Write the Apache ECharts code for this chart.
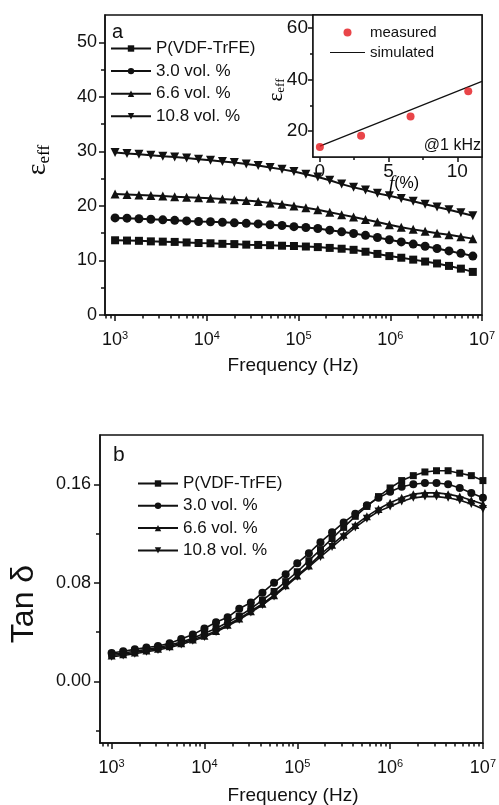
<!DOCTYPE html>
<html>
<head>
<meta charset="utf-8">
<script src="https://cdn.jsdelivr.net/npm/echarts@6/dist/echarts.min.js"></script>
<style>html,body{margin:0;padding:0;background:#fff;}#c{width:499px;height:805px;}</style>
</head>
<body>
<div id="c"></div>
<script>
// ---------- data ----------
const seriesNames = ['P(VDF-TrFE)', '3.0 vol. %', '6.6 vol. %', '10.8 vol. %'];
// log10(frequency / Hz)
const logFreqA = [3.00,3.13,3.26,3.39,3.52,3.65,3.78,3.91,4.04,4.17,4.30,4.43,4.56,4.69,4.82,4.95,5.08,5.21,5.34,5.47,5.60,5.73,5.86,5.99,6.12,6.25,6.38,6.51,6.64,6.77,6.90];
const epsPVDF = [13.7,13.65,13.6,13.5,13.45,13.4,13.3,13.2,13.15,13.05,13.0,12.9,12.85,12.8,12.7,12.65,12.55,12.45,12.3,12.15,11.95,11.6,11.2,10.8,10.5,10.15,9.8,9.45,9.0,8.5,7.9];
const eps30 = [17.8,17.75,17.65,17.55,17.45,17.35,17.25,17.15,17.1,17.0,16.9,16.8,16.7,16.55,16.4,16.2,16.05,15.85,15.55,15.25,14.95,14.6,14.2,13.8,13.4,13.0,12.6,12.2,11.75,11.3,10.8];
const eps66 = [22.2,22.1,22.0,21.9,21.8,21.7,21.6,21.5,21.4,21.25,21.15,21.0,20.8,20.55,20.3,20.0,19.65,19.3,18.85,18.4,17.95,17.5,17.05,16.55,16.1,15.7,15.35,15.0,14.7,14.35,14.0];
const eps108 = [29.8,29.6,29.45,29.3,29.1,28.95,28.8,28.55,28.35,28.15,27.95,27.7,27.4,27.05,26.7,26.3,25.8,25.3,24.7,24.0,23.4,22.9,22.3,21.85,21.35,20.85,20.3,19.8,19.3,18.75,18.2];

const logFreqB = [3.000,3.125,3.250,3.375,3.500,3.625,3.750,3.875,4.000,4.125,4.250,4.375,4.500,4.625,4.750,4.875,5.000,5.125,5.250,5.375,5.500,5.625,5.750,5.875,6.000,6.125,6.250,6.375,6.500,6.625,6.750,6.875,7.000];
const tanPVDF = [0.022,0.023,0.0245,0.026,0.0275,0.0295,0.032,0.035,0.039,0.043,0.048,0.053,0.059,0.066,0.073,0.081,0.089,0.098,0.107,0.116,0.125,0.134,0.142,0.150,0.157,0.163,0.167,0.170,0.171,0.171,0.169,0.167,0.163];
const tan30 = [0.023,0.0245,0.026,0.0275,0.0288,0.031,0.0345,0.038,0.043,0.048,0.052,0.059,0.064,0.072,0.080,0.087,0.096,0.104,0.113,0.121,0.129,0.136,0.143,0.149,0.154,0.158,0.160,0.161,0.161,0.160,0.157,0.153,0.149];
const tan66 = [0.021,0.022,0.0235,0.025,0.0265,0.0285,0.031,0.034,0.037,0.041,0.046,0.051,0.057,0.063,0.070,0.078,0.086,0.094,0.103,0.111,0.119,0.127,0.134,0.140,0.145,0.149,0.152,0.153,0.153,0.152,0.150,0.147,0.144];
const tan108 = [0.020,0.021,0.0225,0.024,0.0255,0.0275,0.030,0.033,0.036,0.040,0.045,0.050,0.056,0.062,0.069,0.077,0.085,0.093,0.101,0.109,0.117,0.125,0.132,0.138,0.142,0.146,0.149,0.150,0.150,0.149,0.147,0.144,0.140];

// inset
const insetFill = [0, 3.0, 6.6, 10.8];
const insetMeasured = [13.9, 18.2, 25.7, 35.5];
const simFill = [0, 11.8];
const simEps = [14.2, 39.3];

// ticks
const decades = [3, 4, 5, 6, 7];
const minorMult = [2, 3, 4, 5, 6, 7, 8, 9];
const epsTicks = [0, 10, 20, 30, 40, 50];
const epsMinor = [5, 15, 25, 35, 45];
const tanTicks = [0, 0.08, 0.16];
const tanMinor = [-0.04, 0.04, 0.12];
const insetXTicks = [0, 5, 10];
const insetXMinor = [2.5, 7.5];
const insetYTicks = [20, 40, 60];
const insetYMinor = [30, 50];

// ---------- build ----------
const FONT = 'Liberation Sans, Arial, sans-serif';
const SERIF = 'Liberation Serif, Times New Roman, serif';
const BLACK = '#111';
const xMinA = 2.89, xMinB = 2.875;
function minorLogTicks(lo) {
  const out = [];
  [2, 3, 4, 5, 6].forEach(d => minorMult.forEach(m => {
    const v = Math.log10(m * Math.pow(10, d));
    if (v >= lo && v <= 7) out.push(v);
  }));
  return out;
}
const symbols = ['rect', 'circle', 'triangle', 'triangle'];
const rotates = [0, 0, 0, 180];
const symSizes = [8, 9, 9, 9];

const xLabel = {
  customValues: decades, color: BLACK, fontFamily: FONT,
  formatter: v => '{b|10}{s|' + Math.round(v) + '}',
  rich: { b: { fontSize: 18, fontFamily: FONT, color: BLACK }, s: { fontSize: 11, fontFamily: FONT, color: BLACK, padding: [0, 0, 10, 0] } }
};
const lineSt = { color: BLACK, width: 1.5 };

function mainX(grid, min, labelMargin) {
  return [
    { type: 'value', gridIndex: grid, min: min, max: 7, position: 'bottom', splitLine: { show: false },
      axisLine: { show: true, onZero: false, lineStyle: lineSt },
      axisTick: { show: true, customValues: decades, length: 6, inside: false, lineStyle: lineSt },
      axisLabel: Object.assign({}, xLabel, { margin: labelMargin }) },
    { type: 'value', gridIndex: grid, min: min, max: 7, position: 'bottom', splitLine: { show: false },
      axisLine: { show: false, onZero: false }, axisLabel: { show: false },
      axisTick: { show: true, customValues: minorLogTicks(min), length: 3.5, lineStyle: lineSt } }
  ];
}
function yPair(grid, min, max, ticks, minor, fmt, fontSize, margin, tickLen) {
  return [
    { type: 'value', gridIndex: grid, min: min, max: max, position: 'left', splitLine: { show: false },
      axisLine: { show: true, onZero: false, lineStyle: lineSt },
      axisTick: { show: true, customValues: ticks, length: tickLen, lineStyle: lineSt },
      axisLabel: { customValues: ticks, formatter: fmt, fontSize: fontSize, fontFamily: FONT, color: BLACK, margin: margin } },
    { type: 'value', gridIndex: grid, min: min, max: max, position: 'left', splitLine: { show: false },
      axisLine: { show: false, onZero: false }, axisLabel: { show: false },
      axisTick: { show: true, customValues: minor, length: tickLen - 2, lineStyle: lineSt } }
  ];
}

const xAxes = [].concat(
  mainX(0, xMinA, 15),
  [
    { type: 'value', gridIndex: 1, min: -0.5, max: 11.8, position: 'bottom', splitLine: { show: false },
      axisLine: { show: true, onZero: false, lineStyle: lineSt },
      axisTick: { show: true, customValues: insetXTicks, length: 5, lineStyle: lineSt },
      axisLabel: { customValues: insetXTicks, fontSize: 19, fontFamily: FONT, color: BLACK, margin: 5 } },
    { type: 'value', gridIndex: 1, min: -0.5, max: 11.8, position: 'bottom', splitLine: { show: false },
      axisLine: { show: false, onZero: false }, axisLabel: { show: false },
      axisTick: { show: true, customValues: insetXMinor, length: 3, lineStyle: lineSt } }
  ],
  mainX(2, xMinB, 15)
);
const yAxes = [].concat(
  yPair(0, 0, 55, epsTicks, epsMinor, v => String(v), 18, 8, 6),
  yPair(1, 10, 65, insetYTicks, insetYMinor, v => String(v), 19, 5, 5),
  yPair(2, -0.05, 0.2, tanTicks, tanMinor, v => v.toFixed(2), 18, 9, 6)
);

const series = [];
const epsSets = [epsPVDF, eps30, eps66, eps108];
const tanSets = [tanPVDF, tan30, tan66, tan108];
epsSets.forEach((vals, i) => {
  series.push({
    type: 'line', name: seriesNames[i], xAxisIndex: 0, yAxisIndex: 0,
    data: logFreqA.map((x, k) => [x, vals[k]]),
    symbol: symbols[i], symbolRotate: rotates[i], symbolSize: symSizes[i], showAllSymbol: true,
    lineStyle: { color: BLACK, width: 2 }, itemStyle: { color: BLACK }, z: 3
  });
});
tanSets.forEach((vals, i) => {
  series.push({
    type: 'line', name: seriesNames[i], xAxisIndex: 4, yAxisIndex: 4,
    data: logFreqB.map((x, k) => [x, vals[k]]),
    symbol: symbols[i], symbolRotate: rotates[i], symbolSize: symSizes[i] - 1, showAllSymbol: true,
    lineStyle: { color: BLACK, width: 1.6 }, itemStyle: { color: BLACK }, z: 3
  });
});
series.push({
  type: 'line', name: 'simulated', xAxisIndex: 2, yAxisIndex: 2,
  data: simFill.map((x, k) => [x, simEps[k]]), showSymbol: false, symbol: 'none',
  lineStyle: { color: BLACK, width: 1.2 }, itemStyle: { color: BLACK }, z: 4
});
series.push({
  type: 'scatter', name: 'measured', xAxisIndex: 2, yAxisIndex: 2,
  data: insetFill.map((x, k) => [x, insetMeasured[k]]),
  symbol: 'circle', symbolSize: 8, itemStyle: { color: '#e3161c' }, z: 5
});

const legendText = { fontSize: 17, fontFamily: FONT, color: BLACK, lineHeight: 17 };
const option = {
  animation: false,
  backgroundColor: '#fff',
  grid: [
    { left: 105, top: 15, width: 377, height: 300, show: true, borderColor: BLACK, borderWidth: 1.5, backgroundColor: 'transparent', containLabel: false },
    { left: 313, top: 15, width: 169, height: 142, show: true, borderColor: BLACK, borderWidth: 1.5, backgroundColor: '#fff', containLabel: false, z: 1 },
    { left: 100, top: 435, width: 387, height: 308, show: true, borderColor: BLACK, borderWidth: 1.5, backgroundColor: 'transparent', containLabel: false }
  ],
  xAxis: xAxes,
  yAxis: yAxes,
  legend: [
    { data: seriesNames, orient: 'vertical', left: 110, top: 40, padding: 0, itemWidth: 40, itemHeight: 8, itemGap: 5.6,
      textStyle: legendText, selectedMode: false },
    { data: seriesNames, orient: 'vertical', left: 137, top: 475, padding: 0, itemWidth: 40, itemHeight: 8, itemGap: 5.3,
      textStyle: legendText, selectedMode: false },
    { data: ['measured', { name: 'simulated', icon: 'path://M0,0 L35,0 L35,1.2 L0,1.2 Z' }],
      orient: 'vertical', left: 330, top: 25, padding: 0, itemWidth: 35, itemHeight: 8, itemGap: 5,
      textStyle: { fontSize: 15, fontFamily: FONT, color: BLACK, lineHeight: 15 }, selectedMode: false }
  ],
  graphic: [
    { type: 'text', x: 112, y: 22, style: { text: 'a', fontSize: 20, fontFamily: FONT, fill: BLACK } },
    { type: 'text', x: 113, y: 445, style: { text: 'b', fontSize: 21, fontFamily: FONT, fill: BLACK } },
    { type: 'text', x: 38, y: 160, rotation: Math.PI / 2,
      style: { text: '{e|ε}{s|eff}', align: 'center', verticalAlign: 'middle',
        rich: { e: { fontSize: 28, fontFamily: SERIF, fill: BLACK, color: BLACK }, s: { fontSize: 17, fontFamily: SERIF, color: BLACK, padding: [14, 0, 0, 0] } } } },
    { type: 'text', x: 276, y: 90, rotation: Math.PI / 2,
      style: { text: '{e|ε}{s|eff}', align: 'center', verticalAlign: 'middle',
        rich: { e: { fontSize: 21, fontFamily: SERIF, color: BLACK }, s: { fontSize: 13, fontFamily: SERIF, color: BLACK, padding: [10, 0, 0, 0] } } } },
    { type: 'text', x: 24, y: 604, rotation: Math.PI / 2,
      style: { text: 'Tan δ', align: 'center', verticalAlign: 'middle', fontSize: 32, fontFamily: FONT, fill: BLACK } },
    { type: 'text', x: 293, y: 366, style: { text: 'Frequency (Hz)', align: 'center', verticalAlign: 'middle', fontSize: 19, fontFamily: FONT, fill: BLACK } },
    { type: 'text', x: 293, y: 796, style: { text: 'Frequency (Hz)', align: 'center', verticalAlign: 'middle', fontSize: 19, fontFamily: FONT, fill: BLACK } },
    { type: 'text', x: 481, y: 146, z: 10, style: { text: '@1 kHz', align: 'right', verticalAlign: 'middle', fontSize: 16, fontFamily: FONT, fill: BLACK } },
    { type: 'text', x: 404, y: 184, z: 10,
      style: { text: '{f|f}{n|(%)}', align: 'center', verticalAlign: 'middle',
        rich: { f: { fontSize: 19, fontFamily: SERIF, fontStyle: 'italic', color: BLACK }, n: { fontSize: 16, fontFamily: FONT, color: BLACK } } } }
  ],
  series: series
};
const chart = echarts.init(document.getElementById('c'), null, { renderer: 'canvas' });
chart.setOption(option);
</script>
</body>
</html>
